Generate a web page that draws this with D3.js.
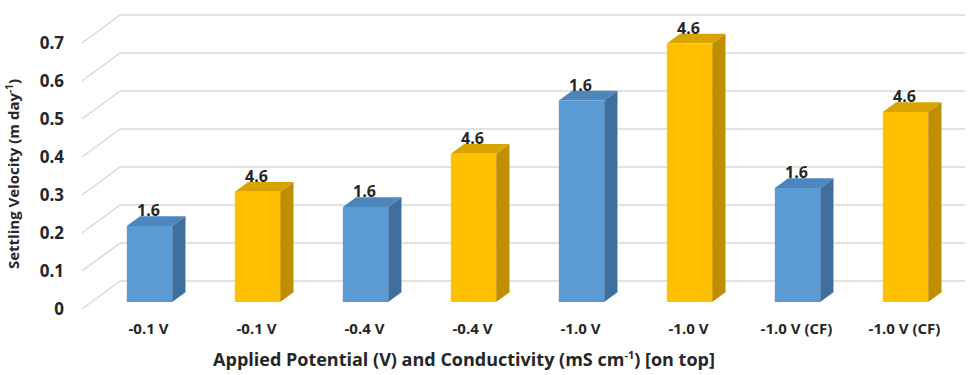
<!DOCTYPE html>
<html>
<head>
<meta charset="utf-8">
<script src="https://cdn.jsdelivr.net/npm/d3@7"></script>
<style>
  html, body { margin: 0; padding: 0; background: #fff; }
  svg { display: block; font-family: "Open Sans", Lato, sans-serif; }
</style>
</head>
<body>
<svg id="chart" width="973" height="375"></svg>
<script>
// Settling velocity per run; conductivity (mS/cm) is printed on top of each column
const categories = ["-0.1 V", "-0.1 V", "-0.4 V", "-0.4 V", "-1.0 V", "-1.0 V", "-1.0 V (CF)", "-1.0 V (CF)"];
const conductivity = ["1.6", "4.6", "1.6", "4.6", "1.6", "4.6", "1.6", "4.6"];
const velocity = [0.20, 0.29, 0.25, 0.39, 0.53, 0.68, 0.30, 0.50];
const yTicks = [0, 0.1, 0.2, 0.3, 0.4, 0.5, 0.6, 0.7];

const svg = d3.select("#chart");

// front plane scales
const x = d3.scaleBand()
  .domain(d3.range(categories.length))
  .range([86, 950])
  .paddingInner(0.58)
  .paddingOuter(0.29);
const y = d3.scaleLinear().domain([0, 0.7]).range([309, 43]);

// depth vector of the 3D box (front -> back wall)
const DX = 38, DY = -28;
const zFront = 0.25, zBack = 0.6;
const proj = (xf, v, z) => [xf + DX * z, y(v) + DY * z];

const palette = {
  "1.6": { front: "#5B9BD5", side: "#3F6F9C", top: "#4C86BD" },
  "4.6": { front: "#FFC000", side: "#BF8F00", top: "#D9A400" }
};

const textColor = "#262626";
const grid = "#D9D9D9";
const wallLeft = 82, wallRight = 965;

// back wall and side wall gridlines
const gGrid = svg.append("g").attr("stroke", grid).attr("stroke-width", 1.5).attr("fill", "none");
yTicks.forEach(t => {
  const yb = y(t) + DY;
  gGrid.append("line")
    .attr("x1", wallLeft + DX).attr("y1", yb)
    .attr("x2", wallRight).attr("y2", yb);
  gGrid.append("line")
    .attr("x1", wallLeft).attr("y1", y(t))
    .attr("x2", wallLeft + DX).attr("y2", yb);
});

// y tick labels
svg.append("g")
  .selectAll("text")
  .data(yTicks)
  .join("text")
  .attr("x", 64)
  .attr("y", d => y(d))
  .attr("dy", "0.36em")
  .attr("text-anchor", "end")
  .attr("font-size", 17)
  .attr("font-weight", 700)
  .attr("fill", textColor)
  .text(d => d === 0 ? "0" : d3.format(".1f")(d));

// 3D columns
const pts = arr => arr.map(p => p.join(",")).join(" ");
const bars = svg.append("g")
  .selectAll("g")
  .data(velocity.map((v, i) => ({ v, i, c: conductivity[i] })))
  .join("g");

bars.append("polygon") // side face
  .attr("fill", d => palette[d.c].side)
  .attr("points", d => {
    const x1 = x(d.i) + x.bandwidth();
    return pts([proj(x1, 0, zFront), proj(x1, d.v, zFront), proj(x1, d.v, zBack), proj(x1, 0, zBack)]);
  });

bars.append("polygon") // top face
  .attr("fill", d => palette[d.c].top)
  .attr("points", d => {
    const x0 = x(d.i), x1 = x0 + x.bandwidth();
    return pts([proj(x0, d.v, zFront), proj(x1, d.v, zFront), proj(x1, d.v, zBack), proj(x0, d.v, zBack)]);
  });

bars.append("polygon") // front face
  .attr("fill", d => palette[d.c].front)
  .attr("points", d => {
    const x0 = x(d.i), x1 = x0 + x.bandwidth();
    return pts([proj(x0, 0, zFront), proj(x0, d.v, zFront), proj(x1, d.v, zFront), proj(x1, 0, zFront)]);
  });

// conductivity labels on top of columns
bars.append("text")
  .attr("x", d => proj(x(d.i) + x.bandwidth() / 2, d.v, zFront)[0] - 1)
  .attr("y", d => proj(0, d.v, zFront)[1] - 10)
  .attr("text-anchor", "middle")
  .attr("font-size", 16)
  .attr("font-weight", 700)
  .attr("fill", textColor)
  .text(d => d.c);

// category labels
svg.append("g")
  .selectAll("text")
  .data(categories)
  .join("text")
  .attr("x", (d, i) => x(i) + x.bandwidth() / 2 + DX * zFront - 1)
  .attr("y", 334)
  .attr("text-anchor", "middle")
  .attr("font-size", 15)
  .attr("font-weight", 700)
  .attr("fill", textColor)
  .text(d => d);

// axis titles
const xt = svg.append("text")
  .attr("x", 464).attr("y", 366)
  .attr("text-anchor", "middle")
  .attr("font-size", 18)
  .attr("font-weight", 700)
  .attr("fill", textColor);
xt.append("tspan").text("Applied Potential (V) and Conductivity (mS cm");
xt.append("tspan").attr("font-size", 11).attr("dy", -7).text("-1");
xt.append("tspan").attr("dy", 7).text(") [on top]");

const yt = svg.append("text")
  .attr("transform", "translate(19,174) rotate(-90)")
  .attr("text-anchor", "middle")
  .attr("font-size", 15)
  .attr("font-weight", 700)
  .attr("fill", textColor);
yt.append("tspan").text("Settling Velocity (m day");
yt.append("tspan").attr("font-size", 10).attr("dy", -6).text("-1");
yt.append("tspan").attr("dy", 6).text(")");
</script>
</body>
</html>
